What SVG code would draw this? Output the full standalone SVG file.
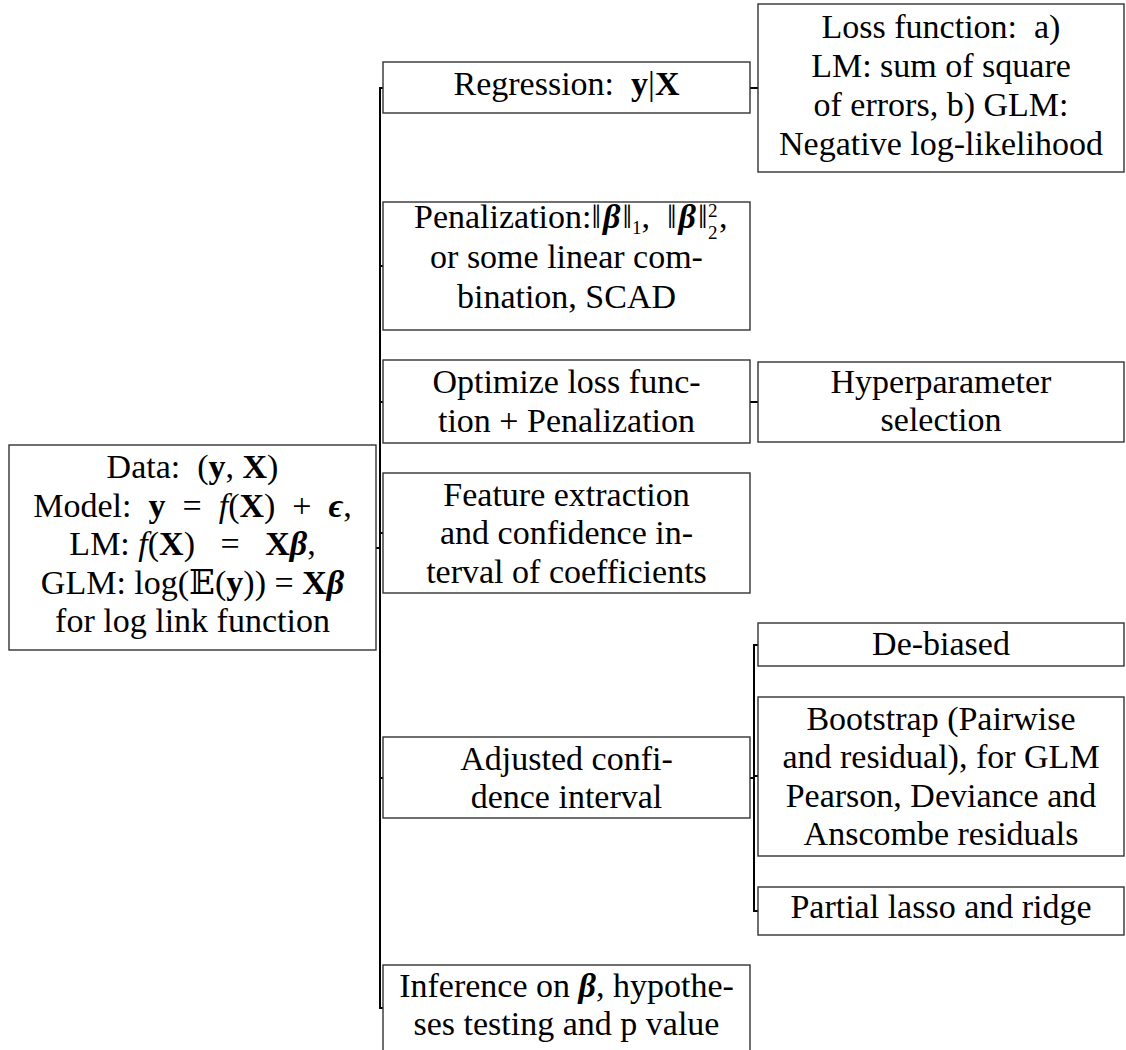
<svg xmlns="http://www.w3.org/2000/svg" width="1126" height="1050" viewBox="0 0 1126 1050">
<style>
  .box { fill: #ffffff; stroke: #333333; stroke-width: 1.4; }
  .t { font-family: "Liberation Serif", "Times New Roman", serif; font-size: 34px; fill: #000000; text-anchor: middle; }
  .s { text-anchor: start; }
  .b { font-weight: bold; }
  .i { font-style: italic; }
  .bi { font-weight: bold; font-style: italic; }
  .bb { font-family: "DejaVu Serif", "DejaVu Sans", serif; }
  .sm { font-size: 19px; }
  .edge { fill: none; stroke: #000000; stroke-width: 2; }
</style>
<rect width="1126" height="1050" fill="#ffffff"/>
<g id="connectors">
  <path class="edge" d="M376,548 H380"/>
  <path class="edge" d="M383,88 H380 V1008 H383"/>
  <path class="edge" d="M380,266 H383 M380,402 H383 M380,533 H383 M380,778 H383"/>
  <path class="edge" d="M750,88 H758"/>
  <path class="edge" d="M750,402 H758"/>
  <path class="edge" d="M750,778 H754 M758,645 H754 V911 H758 M754,776 H758"/>
</g>
<g id="node-data">
  <rect class="box" x="9" y="445" width="367" height="205"/>
  <text class="t" x="192.5" y="478">Data:&#8194;(<tspan class="b">y</tspan>, <tspan class="b">X</tspan>)</text>
  <text class="t" x="192.5" y="516.5">Model:&#8194;<tspan class="b">y</tspan>&#8194;=&#8194;<tspan class="i">f</tspan>(<tspan class="b">X</tspan>)&#8194;+&#8194;<tspan class="bi">ϵ</tspan>,</text>
  <text class="t" x="192.5" y="555">LM: <tspan class="i">f</tspan>(<tspan class="b">X</tspan>)&#8194; =&#8194; <tspan class="b">X</tspan><tspan class="bi">β</tspan>,</text>
  <text class="t" x="192.5" y="593.5">GLM: log(<tspan class="bb">𝔼</tspan>(<tspan class="b">y</tspan>)) = <tspan class="b">X</tspan><tspan class="bi">β</tspan></text>
  <text class="t" x="192.5" y="632">for log link function</text>
</g>
<g id="node-regression">
  <rect class="box" x="383" y="62" width="367" height="51"/>
  <text class="t" x="566.5" y="95">Regression:&#8194;<tspan class="b">y</tspan>|<tspan class="b">X</tspan></text>
</g>
<g id="node-penalization">
  <rect class="box" x="383" y="202" width="367" height="128"/>
  <text class="t s" x="414" y="228">Penalization:‖<tspan class="bi" dx="2">β</tspan><tspan dx="2">‖</tspan><tspan class="sm" dy="6">1</tspan><tspan dy="-6">,&#8194;‖</tspan><tspan class="bi" dx="2">β</tspan><tspan dx="2">‖</tspan></text>
  <text class="t s sm" x="708" y="217">2</text>
  <text class="t s sm" x="708" y="239">2</text>
  <text class="t s" x="719" y="228">,</text>
  <text class="t" x="566.5" y="268">or some linear com-</text>
  <text class="t" x="566.5" y="308">bination, SCAD</text>
</g>
<g id="node-optimize">
  <rect class="box" x="383" y="360" width="367" height="83"/>
  <text class="t" x="566.5" y="393">Optimize loss func-</text>
  <text class="t" x="566.5" y="432">tion + Penalization</text>
</g>
<g id="node-feature">
  <rect class="box" x="383" y="473" width="367" height="120"/>
  <text class="t" x="566.5" y="506">Feature extraction</text>
  <text class="t" x="566.5" y="544">and confidence in-</text>
  <text class="t" x="566.5" y="583">terval of coefficients</text>
</g>
<g id="node-adjusted">
  <rect class="box" x="383" y="737" width="367" height="81"/>
  <text class="t" x="566.5" y="770">Adjusted confi-</text>
  <text class="t" x="566.5" y="808">dence interval</text>
</g>
<g id="node-inference">
  <rect class="box" x="383" y="965" width="367" height="90"/>
  <text class="t" x="566.5" y="997">Inference on <tspan class="bi">β</tspan>, hypothe-</text>
  <text class="t" x="566.5" y="1035">ses testing and p value</text>
</g>
<g id="node-loss">
  <rect class="box" x="758" y="4" width="366" height="168"/>
  <text class="t" x="941" y="38">Loss function:&#8194;a)</text>
  <text class="t" x="941" y="77">LM: sum of square</text>
  <text class="t" x="941" y="116">of errors, b) GLM:</text>
  <text class="t" x="941" y="155">Negative log-likelihood</text>
</g>
<g id="node-hyper">
  <rect class="box" x="758" y="362" width="366" height="80"/>
  <text class="t" x="941" y="393">Hyperparameter</text>
  <text class="t" x="941" y="431">selection</text>
</g>
<g id="node-debiased">
  <rect class="box" x="758" y="623" width="366" height="43"/>
  <text class="t" x="941" y="655">De-biased</text>
</g>
<g id="node-bootstrap">
  <rect class="box" x="758" y="697" width="366" height="159"/>
  <text class="t" x="941" y="730">Bootstrap (Pairwise</text>
  <text class="t" x="941" y="768">and residual), for GLM</text>
  <text class="t" x="941" y="807">Pearson, Deviance and</text>
  <text class="t" x="941" y="845">Anscombe residuals</text>
</g>
<g id="node-partial">
  <rect class="box" x="758" y="887" width="366" height="48"/>
  <text class="t" x="941" y="918">Partial lasso and ridge</text>
</g>
</svg>
